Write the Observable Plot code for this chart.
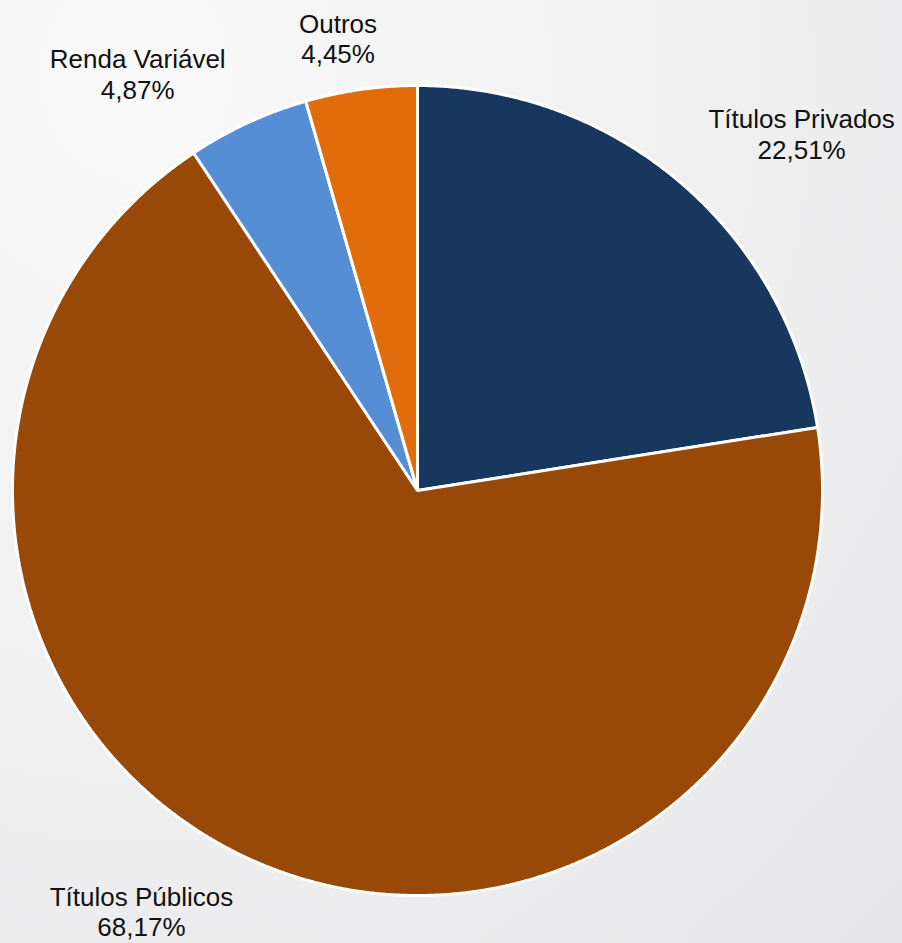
<!DOCTYPE html>
<html>
<head>
<meta charset="utf-8">
<script src="https://cdn.jsdelivr.net/npm/d3@7"></script>
<script src="https://cdn.jsdelivr.net/npm/@observablehq/plot@0.6"></script>
<style>
  html, body { margin: 0; padding: 0; }
  body {
    width: 902px; height: 943px; overflow: hidden;
    background: radial-gradient(ellipse at 15% 8%, #f9f9f9 0%, #f1f1f2 45%, #e7e7e9 100%);
  }
</style>
</head>
<body>
<div id="chart"></div>
<script>
// ---- data ----
const categories = ["Títulos Privados", "Títulos Públicos", "Renda Variável", "Outros"];
const shares = [22.51, 68.17, 4.87, 4.45];
const valueLabels = ["22,51%", "68,17%", "4,87%", "4,45%"];

// ---- style ----
const colors = ["#17375e", "#984807", "#558ed5", "#e36c0a"];
const labelOffsets = [[121, -49], [-113, 50], [-110, -49], [-23, -51]];

const W = 902, H = 943, cx = 417, cy = 490, R = 405;

const arcs = d3.pie().sort(null).value(d => d)(shares);

const slicePts = [];
arcs.forEach((a, i) => {
  slicePts.push({cat: categories[i], x: 0, y: 0});
  const n = Math.max(2, Math.ceil((a.endAngle - a.startAngle) / (Math.PI / 720)));
  for (let k = 0; k <= n; k++) {
    const t = a.startAngle + (a.endAngle - a.startAngle) * k / n;
    slicePts.push({cat: categories[i], x: Math.sin(t), y: Math.cos(t)});
  }
});

const labelMarks = arcs.map((a, i) => {
  const m = (a.startAngle + a.endAngle) / 2;
  return Plot.text([{x: Math.sin(m), y: Math.cos(m), t: categories[i] + "\n" + valueLabels[i]}], {
    x: "x", y: "y", text: "t",
    dx: labelOffsets[i][0], dy: labelOffsets[i][1],
    fontSize: 26, lineHeight: 1.17, fill: "#111", textAnchor: "middle", lineAnchor: "middle"
  });
});

const chart = Plot.plot({
  width: W, height: H,
  margin: 0,
  x: {domain: [-cx / R, (W - cx) / R], axis: null},
  y: {domain: [-(H - cy) / R, cy / R], axis: null},
  color: {domain: categories, range: colors},
  style: {background: "transparent", fontFamily: "'Liberation Sans', Arial, sans-serif", overflow: "visible"},
  marks: [
    Plot.line(slicePts, {
      x: "x", y: "y", z: "cat", fill: "cat",
      stroke: "white", strokeWidth: 3, strokeLinejoin: "miter",
      curve: "linear-closed"
    }),
    ...labelMarks
  ]
});
document.getElementById("chart").appendChild(chart);
</script>
</body>
</html>
